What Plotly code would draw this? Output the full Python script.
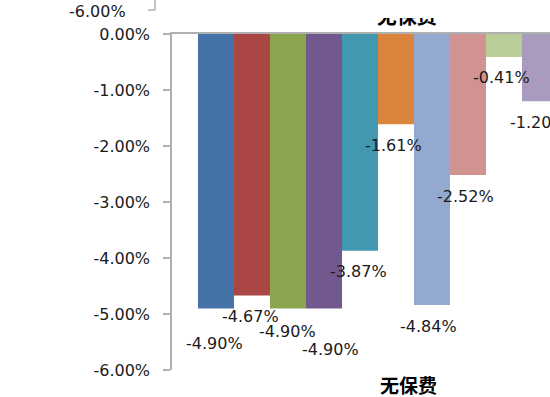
import plotly.graph_objects as go

# ---- data ----
series_idx = [0, 1, 2, 3, 4, 5, 6, 7, 8, 9]
values_pct = [-4.90, -4.67, -4.90, -4.90, -3.87, -1.61, -4.84, -2.52, -0.41, -1.20]
category = "无保费"
y_ticks = [0, -1, -2, -3, -4, -5, -6]
top_stray_tick = "-6.00%"

# ---- styles ----
colors = ["#4572A7", "#AA4643", "#89A54E", "#71588F", "#4198AF",
          "#DB843D", "#93A9CF", "#D19392", "#B9CD96", "#A99BBD"]
label_dy = [35, 21, 23, 41, 21, 21, 21, 21, 21, 21]   # px below bar end
label_dx = [-1, -1, 0, 7, -1, -2, -3, -2, -2, -1]
W, H = 550, 397
axis_col = "#b0b0b0"
txt_col = "#1a1a1a"
FONT = "DejaVu Sans"
FS = 16

def px_x(p):
    return p / W

def px_y(p):
    return 1 - p / H

fig = go.Figure()
fig.add_trace(go.Bar(
    x=series_idx, y=values_pct, width=1,
    marker=dict(color=colors, line=dict(width=0)),
    showlegend=False, hoverinfo="skip",
))
# clipped category title of the chart above (only lower part visible)
fig.add_trace(go.Scatter(
    x=[5.3], y=[0.95], text=[f"<b>{category}</b>"], mode="text",
    textfont=dict(family="Noto Sans CJK SC", size=20, color="#000"),
    xaxis="x2", yaxis="y2", cliponaxis=True, showlegend=False, hoverinfo="skip",
))

xr = [-1.222, -1.222 + (W - 172) / 36.0]
fig.update_layout(
    width=W, height=H,
    margin=dict(l=0, r=0, t=0, b=0, pad=0, autoexpand=False),
    paper_bgcolor="white", plot_bgcolor="white",
    xaxis=dict(domain=[px_x(172), 1], range=xr, side="top", showline=True,
               linecolor=axis_col, linewidth=1.5, showticklabels=False,
               ticks="", showgrid=False, zeroline=False, anchor="y",
               automargin=False),
    yaxis=dict(domain=[px_y(370), px_y(34)], range=[-6, 0], showline=True,
               linecolor=axis_col, linewidth=1.5, ticks="outside", ticklen=7,
               tickcolor=axis_col, tickwidth=1.5,
               tickvals=y_ticks, ticktext=[f"{t:.2f}%" for t in y_ticks],
               tickfont=dict(family=FONT, size=FS, color=txt_col),
               ticklabelstandoff=10, automargin=False,
               showgrid=False, zeroline=False, anchor="x"),
    xaxis2=dict(domain=[px_x(172), 1], range=xr, visible=False, anchor="y2",
                automargin=False),
    yaxis2=dict(domain=[px_y(33), px_y(18)], range=[0, 1], visible=False, anchor="x2",
                automargin=False),
)

ann = []
for i, v in enumerate(values_pct):
    ann.append(dict(x=series_idx[i], y=v, xref="x", yref="y", text=f"{v:.2f}%",
                    showarrow=False, xanchor="center", yanchor="middle",
                    yshift=-label_dy[i], xshift=label_dx[i],
                    font=dict(family=FONT, size=FS, color=txt_col)))
ann.append(dict(x=px_x(408), y=px_y(384), xref="paper", yref="paper",
                text=f"<b>{category}</b>",
                showarrow=False, xanchor="center", yanchor="middle",
                font=dict(family="Noto Sans CJK SC", size=19, color="#000")))
ann.append(dict(x=px_x(128), y=px_y(12), xref="paper", yref="paper", text=top_stray_tick,
                showarrow=False, xanchor="right", yanchor="middle",
                font=dict(family=FONT, size=FS, color=txt_col)))
fig.update_layout(annotations=ann)

fig.update_layout(shapes=[
    dict(type="line", xref="paper", yref="paper", x0=px_x(155), x1=px_x(155),
         y0=1, y1=px_y(10), line=dict(color=axis_col, width=1.5)),
    dict(type="line", xref="paper", yref="paper", x0=px_x(148), x1=px_x(155),
         y0=px_y(10), y1=px_y(10), line=dict(color=axis_col, width=1.5)),
])

fig.write_html("out.html",
               post_script="document.body.style.margin='0';document.body.style.overflow='hidden';")
